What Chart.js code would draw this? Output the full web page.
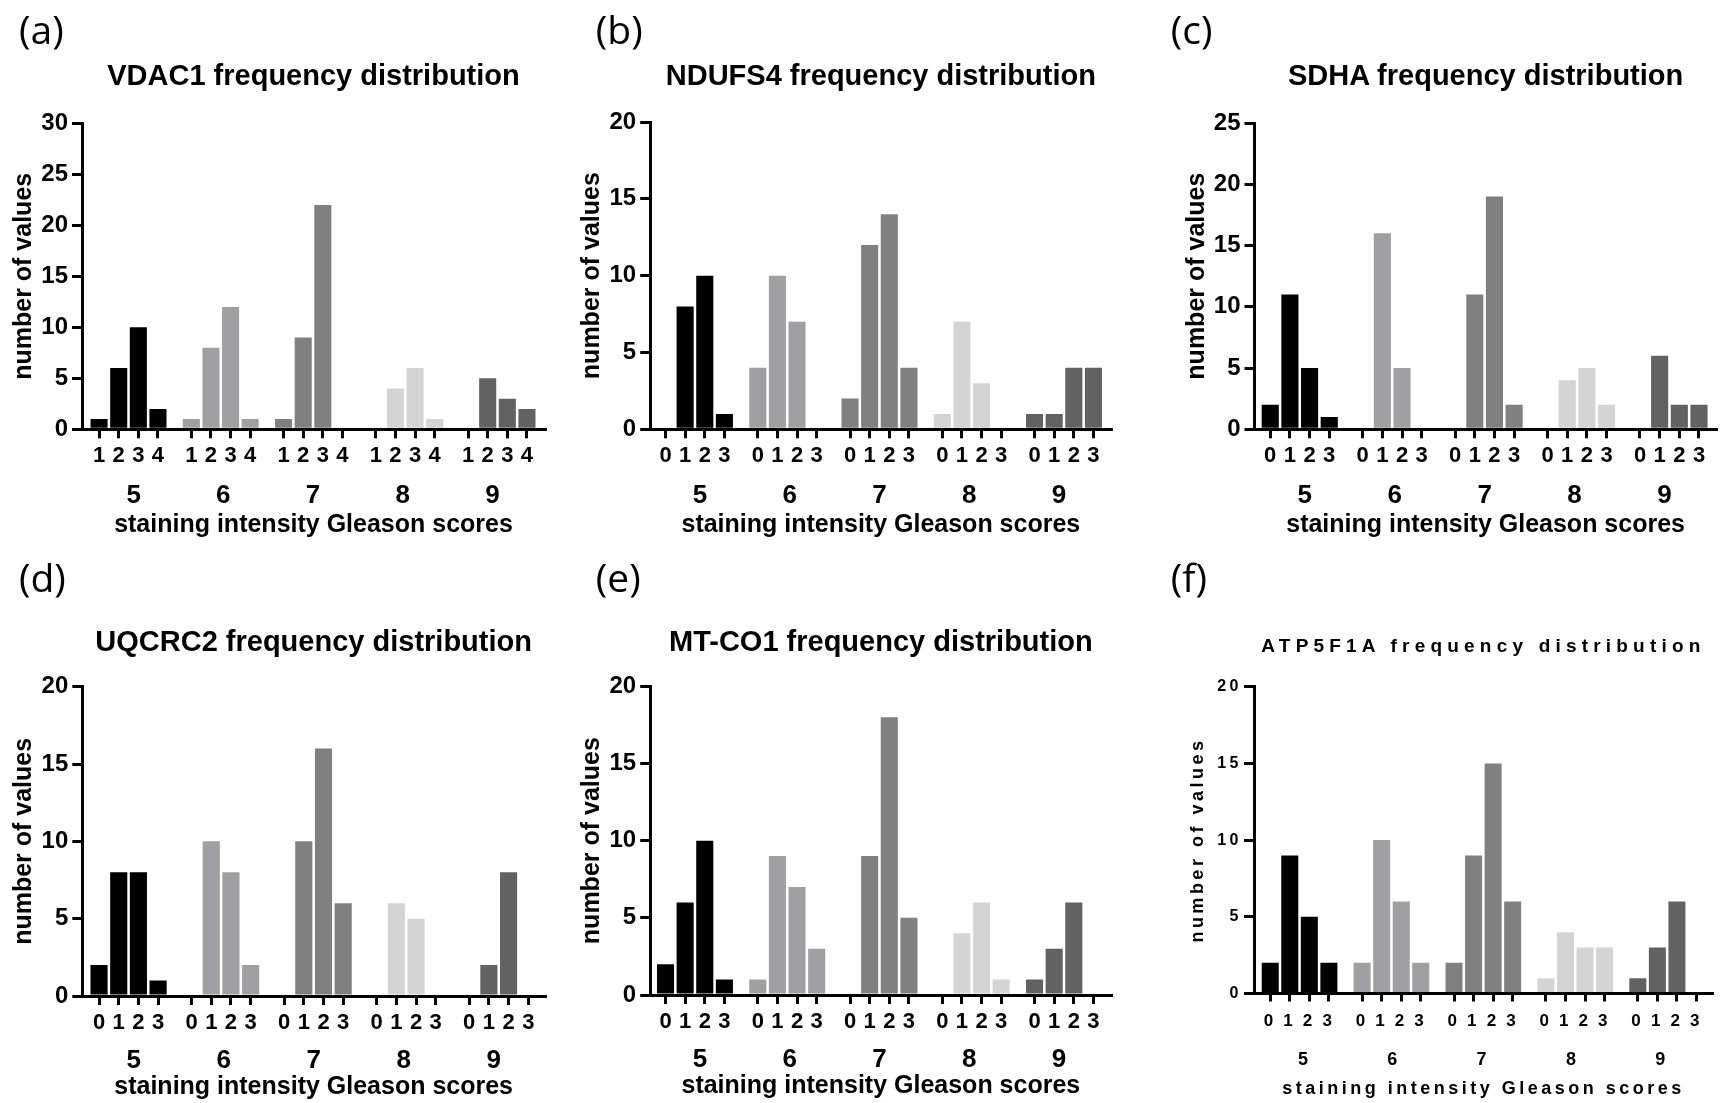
<!DOCTYPE html>
<html><head><meta charset="utf-8">
<script src="https://cdn.jsdelivr.net/npm/chart.js@4.4.1/dist/chart.umd.min.js"></script>
<style>
html,body{margin:0;padding:0;background:#fff;}
#fig{position:relative;width:1725px;height:1103px;overflow:hidden;background:#fff;}
.txt{position:absolute;line-height:1;white-space:nowrap;color:#000;}
</style></head><body><div id="fig"></div>
<script>
// ---------------- data ----------------
const gleasonScores = ['5', '6', '7', '8', '9'];
const intensityVDAC1 = ['1', '2', '3', '4'];
const intensityOthers = ['0', '1', '2', '3'];
// counts, 4 intensities per Gleason score (5,6,7,8,9)
const vdac1   = [1, 6, 10, 2,   1, 8, 12, 1,   1, 9, 22, 0,   0, 4, 6, 1,   0, 5, 3, 2];
const ndufs4  = [0, 8, 10, 1,   4, 10, 7, 0,   2, 12, 14, 4,  1, 7, 3, 0,   1, 1, 4, 4];
const sdha    = [2, 11, 5, 1,   0, 16, 5, 0,   0, 11, 19, 2,  0, 4, 5, 2,   0, 6, 2, 2];
const uqcrc2  = [2, 8, 8, 1,    0, 10, 8, 2,   0, 10, 16, 6,  0, 6, 5, 0,   0, 2, 8, 0];
const mtco1   = [2, 6, 10, 1,   1, 9, 7, 3,    0, 9, 18, 5,   0, 4, 6, 1,   1, 3, 6, 0];
const atp5f1a = [2, 9, 5, 2,    2, 10, 6, 2,   2, 9, 15, 6,   1, 4, 3, 3,   1, 3, 6, 0];
const yAxisMax = { vdac1: 30, ndufs4: 20, sdha: 25, uqcrc2: 20, mtco1: 20, atp5f1a: 20 };
const yAxisStep = 5;

// ---------------- styles / layout ----------------
const groupColors = ['#000000', '#a0a0a4', '#808080', '#d4d4d4', '#626262'];
const groupStride = 4.7;    // slot units between the first bars of two groups
const labelStride = 4.57;   // slot units between the Gleason-score labels
const FONT = "'Liberation Sans', Arial, Helvetica, sans-serif";
const fontsStd = { yTick: 24, digits: 22, group: 26, xTitle: 25, yTitle: 25, title: 29, spacing: 0, titleSpacing: 0 };
const fontsSmall = { yTick: 16, digits: 17, group: 18, xTitle: 18, yTitle: 18, title: 19, spacing: 3.5, titleSpacing: 5.2 };
const row1Text = { digitsMid: 26.5, groupMid: 66.5, titleMid: 96, xTick: 9 };
const row2Text = { digitsMid: 26.5, groupMid: 64.5, titleMid: 91, xTick: 9 };
const fText = { digitsMid: 28, groupMid: 67, titleMid: 96, xTick: 8 };

const panels = [
  { letter: '(a)', title: 'VDAC1 frequency distribution', values: vdac1, intensity: intensityVDAC1, yMax: yAxisMax.vdac1,
    X0: 0, Y0: 0, H: 551, L: 82, R: 545, T: 123.3, B: 429.3, yTitleCx: 24, xMin: -0.87, xMax: 22.72,
    letterX: 22, letterBase: 43.5, titleBase: 86, fonts: fontsStd, text: row1Text },
  { letter: '(b)', title: 'NDUFS4 frequency distribution', values: ndufs4, intensity: intensityOthers, yMax: yAxisMax.ndufs4,
    X0: 575, Y0: 0, H: 551, L: 650.2, R: 1111.5, T: 122, B: 429.3, yTitleCx: 592, xMin: -0.78, xMax: 22.72,
    letterX: 598.8, letterBase: 43.5, titleBase: 86, fonts: fontsStd, text: row1Text },
  { letter: '(c)', title: 'SDHA frequency distribution', values: sdha, intensity: intensityOthers, yMax: yAxisMax.sdha,
    X0: 1150, Y0: 0, H: 551, L: 1254.5, R: 1716.7, T: 123, B: 429.3, yTitleCx: 1197, xMin: -0.80, xMax: 22.7,
    letterX: 1173.8, letterBase: 43.5, titleBase: 86, fonts: fontsStd, text: row1Text },
  { letter: '(d)', title: 'UQCRC2 frequency distribution', values: uqcrc2, intensity: intensityOthers, yMax: yAxisMax.uqcrc2,
    X0: 0, Y0: 551, H: 552, L: 82.3, R: 545, T: 686.7, B: 996, yTitleCx: 24, xMin: -0.85, xMax: 22.65,
    letterX: 22, letterBase: 592, titleBase: 651.7, fonts: fontsStd, text: row2Text },
  { letter: '(e)', title: 'MT-CO1 frequency distribution', values: mtco1, intensity: intensityOthers, yMax: yAxisMax.mtco1,
    X0: 575, Y0: 551, H: 552, L: 650.2, R: 1111.5, T: 686.3, B: 995, yTitleCx: 592, xMin: -0.78, xMax: 22.72,
    letterX: 598.8, letterBase: 592, titleBase: 651.7, fonts: fontsStd, text: row2Text },
  { letter: '(f)', title: 'ATP5F1A frequency distribution', values: atp5f1a, intensity: intensityOthers, yMax: yAxisMax.atp5f1a,
    X0: 1150, Y0: 551, H: 552, L: 1254, R: 1712.9, T: 686.7, B: 993.5, yTitleCx: 1198.3, xMin: -0.83, xMax: 22.64,
    letterX: 1173.8, letterBase: 592, titleBase: 652.5, fonts: fontsSmall, text: fText }
];

const fig = document.getElementById('fig');

function placeText(str, x, baseline, family, size, weight, ratio, center, spacing) {
  const d = document.createElement('div');
  d.className = 'txt';
  d.textContent = str;
  d.style.fontFamily = family;
  d.style.fontSize = size + 'px';
  d.style.fontWeight = weight;
  d.style.left = x + 'px';
  d.style.top = (baseline - ratio * size) + 'px';
  if (spacing) d.style.letterSpacing = spacing + 'px';
  if (center) d.style.transform = 'translateX(-50%)';
  fig.appendChild(d);
}

const letterSpacingPlugin = {
  id: 'letterSpacing',
  beforeDraw(chart, args, opts) {
    if (opts && opts.px) chart.ctx.letterSpacing = opts.px + 'px';
  }
};

function barPositions() {
  const p = [];
  for (let g = 0; g < gleasonScores.length; g++)
    for (let i = 0; i < 4; i++) p.push(g * groupStride + i);
  return p;
}
function groupLabelPositions() {
  const mid = (gleasonScores.length - 1) / 2;
  const midCenter = mid * groupStride + 1.5;
  return gleasonScores.map((s, g) => midCenter + (g - mid) * labelStride);
}

function makePanel(P) {
  const W = 575;
  const canvas = document.createElement('canvas');
  canvas.width = W; canvas.height = P.H;
  canvas.style.position = 'absolute';
  canvas.style.left = P.X0 + 'px';
  canvas.style.top = P.Y0 + 'px';
  canvas.style.width = W + 'px';
  canvas.style.height = P.H + 'px';
  fig.appendChild(canvas);

  const f = P.fonts, t = P.text;
  const pos = barPositions();
  const centers = groupLabelPositions();
  const yLH = f.yTitle * 1.2, digLH = f.digits * 1.2, grpLH = f.group * 1.2, xtLH = f.xTitle * 1.2;
  const padLeft = P.yTitleCx - P.X0 - yLH / 2;
  const yWidth = P.L - P.X0 - padLeft;
  const xH = t.digitsMid + digLH / 2 + 1;
  const x2H = t.titleMid + xtLH / 2 - xH;
  const padBottom = Math.max(0, P.H - (P.B - P.Y0) - xH - x2H);
  const padRight = P.X0 + W - P.R;
  const padTop = P.T - P.Y0;
  const font = (s) => ({ family: FONT, size: s, weight: 'bold', lineHeight: 1.2 });

  new Chart(canvas, {
    type: 'bar',
    data: {
      datasets: [{
        data: P.values.map((v, k) => ({ x: pos[k], y: v })),
        backgroundColor: P.values.map((v, k) => groupColors[Math.floor(k / 4)]),
        borderWidth: 0,
        barPercentage: 0.87,
        categoryPercentage: 1.0
      }]
    },
    options: {
      responsive: false,
      animation: false,
      devicePixelRatio: 1,
      layout: { padding: { left: padLeft, right: padRight, top: padTop, bottom: padBottom } },
      plugins: {
        legend: { display: false },
        tooltip: { enabled: false },
        title: { display: false },
        letterSpacing: { px: f.spacing }
      },
      scales: {
        x: {
          type: 'linear', axis: 'x', position: 'bottom', weight: 0,
          min: P.xMin, max: P.xMax, bounds: 'data', offset: false,
          afterBuildTicks: (s) => { s.ticks = pos.map(v => ({ value: v })); },
          afterFit: (s) => { s.height = xH; },
          grid: { display: true, drawOnChartArea: false, drawTicks: true, tickLength: t.xTick,
                  tickWidth: 3, lineWidth: 3, color: '#000', tickColor: '#000', offset: false },
          border: { display: true, color: '#000', width: 3, z: 1 },
          ticks: {
            autoSkip: false, maxRotation: 0, minRotation: 0, color: '#000',
            padding: t.digitsMid - t.xTick - digLH / 2,
            font: font(f.digits),
            callback: (v, i) => P.intensity[i % 4]
          }
        },
        x2: {
          type: 'linear', axis: 'x', position: 'bottom', weight: 1,
          min: P.xMin, max: P.xMax, bounds: 'data', offset: false,
          afterBuildTicks: (s) => { s.ticks = centers.map(v => ({ value: v })); },
          afterFit: (s) => { s.height = x2H; },
          grid: { display: false, drawOnChartArea: false, drawTicks: false, offset: false },
          border: { display: false },
          ticks: {
            autoSkip: false, maxRotation: 0, minRotation: 0, color: '#000',
            padding: t.groupMid - xH - grpLH / 2,
            font: font(f.group),
            callback: (v, i) => gleasonScores[i]
          },
          title: { display: true, text: 'staining intensity Gleason scores', color: '#000',
                   font: font(f.xTitle), padding: { top: 0, bottom: 0 } }
        },
        y: {
          type: 'linear', position: 'left', min: 0, max: P.yMax,
          afterFit: (s) => { s.width = yWidth; },
          grid: { display: true, drawOnChartArea: false, drawTicks: true, tickLength: 10,
                  tickWidth: 3, lineWidth: 3, color: '#000', tickColor: '#000' },
          border: { display: true, color: '#000', width: 3, z: 1 },
          ticks: { stepSize: yAxisStep, padding: f.spacing ? 2 : 4, color: '#000', font: font(f.yTick) },
          title: { display: true, text: 'number of values', color: '#000',
                   font: font(f.yTitle), padding: { top: 0, bottom: 0 } }
        }
      }
    },
    plugins: [letterSpacingPlugin]
  });

  // panel letter and chart title (HTML text)
  placeText(P.letter, P.letterX - 3, P.letterBase, "'Open Sans', 'Noto Sans', sans-serif", 39, 400, 0.888, false, 0);
  placeText(P.title, (P.L + P.R) / 2, P.titleBase, FONT, f.title, 'bold', 0.8465, true, f.titleSpacing);
}

panels.forEach(makePanel);
</script>
</body></html>
